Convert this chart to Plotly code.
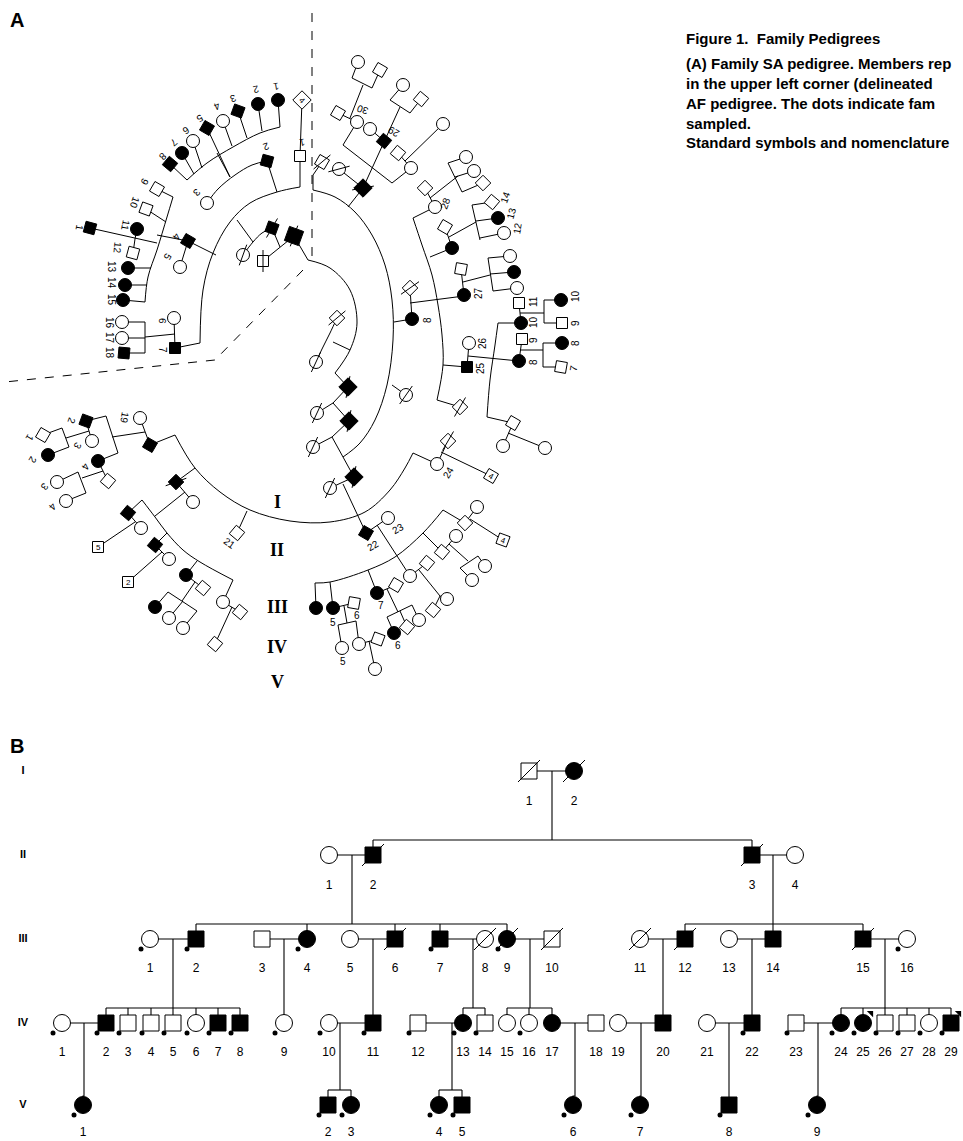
import math
import plotly.graph_objects as go

W, H = 963, 1141

# ===================== Panel B (Family AF) data =====================
B_gen_y = {"I": 771, "II": 855, "III": 939, "IV": 1023, "V": 1105}
# (generation, label, x, sex, affected, deceased, sampled, flag)
B_people = [
    ("I", "1", 529, "m", 0, 1, 0, 0), ("I", "2", 574, "f", 1, 1, 0, 0),
    ("II", "1", 329, "f", 0, 0, 0, 0), ("II", "2", 373, "m", 1, 1, 0, 0),
    ("II", "3", 752, "m", 1, 1, 0, 0), ("II", "4", 795, "f", 0, 0, 0, 0),
    ("III", "1", 150, "f", 0, 0, 1, 0), ("III", "2", 196, "m", 1, 0, 1, 0),
    ("III", "3", 262, "m", 0, 0, 0, 0), ("III", "4", 307, "f", 1, 0, 1, 0),
    ("III", "5", 350, "f", 0, 0, 0, 0), ("III", "6", 395, "m", 1, 1, 0, 0),
    ("III", "7", 440, "m", 1, 0, 1, 0), ("III", "8", 485, "f", 0, 1, 0, 0),
    ("III", "9", 507, "f", 1, 1, 1, 0), ("III", "10", 552, "m", 0, 1, 0, 0),
    ("III", "11", 640, "f", 0, 1, 0, 0), ("III", "12", 685, "m", 1, 1, 0, 0),
    ("III", "13", 729, "f", 0, 0, 0, 0), ("III", "14", 773, "m", 1, 0, 0, 0),
    ("III", "15", 863, "m", 1, 1, 0, 0), ("III", "16", 907, "f", 0, 0, 1, 0),
    ("IV", "1", 62, "f", 0, 0, 1, 0), ("IV", "2", 106, "m", 1, 0, 1, 0),
    ("IV", "3", 128, "m", 0, 0, 1, 0), ("IV", "4", 151, "m", 0, 0, 1, 0),
    ("IV", "5", 173, "m", 0, 0, 1, 0), ("IV", "6", 196, "f", 0, 0, 1, 0),
    ("IV", "7", 218, "m", 1, 0, 1, 0), ("IV", "8", 240, "m", 1, 0, 1, 0),
    ("IV", "9", 284, "f", 0, 0, 1, 0), ("IV", "10", 329, "f", 0, 0, 1, 0),
    ("IV", "11", 373, "m", 1, 0, 1, 0), ("IV", "12", 418, "m", 0, 0, 1, 0),
    ("IV", "13", 463, "f", 1, 0, 1, 0), ("IV", "14", 485, "m", 0, 0, 1, 0),
    ("IV", "15", 507, "f", 0, 0, 0, 0), ("IV", "16", 529, "f", 0, 0, 1, 0),
    ("IV", "17", 552, "f", 1, 0, 0, 0), ("IV", "18", 596, "m", 0, 0, 0, 0),
    ("IV", "19", 618, "f", 0, 0, 0, 0), ("IV", "20", 663, "m", 1, 0, 0, 0),
    ("IV", "21", 707, "f", 0, 0, 0, 0), ("IV", "22", 752, "m", 1, 0, 1, 0),
    ("IV", "23", 796, "m", 0, 0, 1, 0), ("IV", "24", 841, "f", 1, 0, 1, 0),
    ("IV", "25", 863, "f", 1, 0, 1, 1), ("IV", "26", 885, "m", 0, 0, 1, 0),
    ("IV", "27", 907, "m", 0, 0, 1, 0), ("IV", "28", 929, "f", 0, 0, 1, 0),
    ("IV", "29", 951, "m", 1, 0, 1, 1),
    ("V", "1", 83, "f", 1, 0, 1, 0), ("V", "2", 328, "m", 1, 0, 1, 0),
    ("V", "3", 351, "f", 1, 0, 1, 0), ("V", "4", 439, "f", 1, 0, 1, 0),
    ("V", "5", 462, "m", 1, 0, 1, 0), ("V", "6", 573, "f", 1, 0, 1, 0),
    ("V", "7", 640, "f", 1, 0, 1, 0), ("V", "8", 729, "m", 1, 0, 1, 0),
    ("V", "9", 817, "f", 1, 0, 1, 0),
]
# (parent generation, parent1, parent2, drop x, child generation, children)
B_families = [
    ("I", "1", "2", 552, "II", ["2", "3"]),
    ("II", "1", "2", 352, "III", ["2", "4", "6", "7", "9"]),
    ("II", "3", "4", 773, "III", ["12", "14", "15"]),
    ("III", "1", "2", 173, "IV", ["2", "3", "4", "5", "6", "7", "8"]),
    ("III", "3", "4", 284, "IV", ["9"]),
    ("III", "5", "6", 373, "IV", ["11"]),
    ("III", "7", "8", 473, "IV", ["13", "14"]),
    ("III", "9", "10", 530, "IV", ["15", "16", "17"]),
    ("III", "11", "12", 663, "IV", ["20"]),
    ("III", "13", "14", 752, "IV", ["22"]),
    ("III", "15", "16", 885, "IV", ["24", "25", "26", "27", "28", "29"]),
    ("IV", "1", "2", 84, "V", ["1"]),
    ("IV", "10", "11", 340, "V", ["2", "3"]),
    ("IV", "12", "13", 452, "V", ["4", "5"]),
    ("IV", "17", "18", 575, "V", ["6"]),
    ("IV", "19", "20", 641, "V", ["7"]),
    ("IV", "21", "22", 729, "V", ["8"]),
    ("IV", "23", "24", 818, "V", ["9"]),
]
B_gen_labels = ["I", "II", "III", "IV", "V"]
B_label_offset = {"I": 31, "II": 31, "III": 30, "IV": 30, "V": 28}

# ===================== Panel A (Family SA, circular) data =====================
# (x, y, shape, filled, rotation, slash angle or None, size or 0)
A_nodes = [
    (302, 100, "s", 0, 45, None, 13), (300, 156, "s", 0, 0, None, 0),
    (278, 100, "c", 1, 0, None, 0), (258, 104, "c", 1, 0, None, 0),
    (238, 111, "s", 1, 20, None, 0), (223, 121, "c", 0, 0, None, 0),
    (207, 128, "s", 1, 30, None, 0), (193, 141, "c", 0, 0, None, 0),
    (182, 153, "c", 1, 0, None, 0), (170, 164, "s", 1, 40, None, 0),
    (157, 189, "s", 0, 30, None, 0), (146, 209, "s", 0, 20, None, 0),
    (137, 229, "c", 1, 0, None, 0), (133, 253, "s", 0, 15, None, 0),
    (128, 268, "c", 1, 0, None, 0), (125, 285, "c", 1, 0, None, 0),
    (123, 300, "c", 1, 0, None, 0), (122, 322, "c", 0, 0, None, 0),
    (122, 338, "c", 0, 0, None, 0), (124, 353, "s", 1, 5, None, 0),
    (90, 228, "s", 1, 15, None, 0), (267, 161, "s", 1, 15, None, 0),
    (207, 203, "c", 0, 0, None, 0), (188, 241, "s", 1, 30, None, 0),
    (180, 267, "c", 0, 0, None, 0), (174, 318, "c", 0, 0, None, 0),
    (175, 348, "s", 1, 0, None, 0),
    (272, 228, "s", 1, 20, 60, 0), (294, 236, "s", 1, 20, 70, 15),
    (243, 255, "c", 0, 0, 70, 0), (263, 261, "s", 0, 0, 90, 0),
    # right upper
    (358, 62, "c", 0, 0, None, 0), (380, 70, "s", 0, 30, None, 0),
    (338, 113, "s", 0, 30, None, 0), (357, 122, "c", 0, 0, None, 0),
    (403, 85, "c", 0, 0, None, 0), (421, 99, "s", 0, 40, None, 0),
    (370, 129, "c", 0, 0, None, 0), (384, 141, "s", 1, 40, None, 0),
    (443, 124, "c", 0, 0, None, 0), (398, 153, "s", 0, 40, None, 0),
    (411, 168, "c", 0, 0, None, 0), (322, 162, "s", 0, 30, 40, 0),
    (339, 169, "c", 0, 0, 15, 0), (363, 188, "s", 1, 45, 10, 13),
    (435, 207, "c", 0, 0, None, 0), (425, 188, "s", 0, 45, None, 0),
    (466, 157, "c", 0, 0, None, 0), (474, 171, "c", 0, 0, None, 0),
    (483, 183, "s", 0, 45, None, 0), (445, 227, "s", 0, 30, None, 0),
    (452, 248, "c", 1, 0, None, 0), (492, 202, "s", 0, 40, None, 0),
    (498, 218, "c", 1, 0, None, 0), (504, 233, "c", 0, 0, None, 0),
    (461, 269, "s", 0, 10, None, 0), (464, 295, "c", 1, 0, None, 0),
    (510, 256, "c", 0, 0, None, 0), (514, 272, "c", 1, 0, None, 0),
    (517, 288, "c", 0, 0, None, 0), (410, 288, "s", 0, 45, 35, 0),
    (412, 319, "c", 1, 0, None, 0), (469, 343, "c", 0, 0, None, 0),
    (467, 367, "s", 1, 0, None, 0), (519, 303, "s", 0, 0, None, 0),
    (521, 323, "c", 1, 0, None, 0), (522, 339, "s", 0, 0, None, 0),
    (519, 361, "c", 1, 0, None, 0), (561, 300, "c", 1, 0, None, 0),
    (562, 323, "s", 0, 0, None, 0), (562, 343, "c", 1, 0, None, 0),
    (561, 367, "s", 0, 10, None, 0),
    (406, 395, "c", 0, 0, 55, 0), (460, 407, "s", 0, 45, 60, 0),
    (513, 423, "s", 0, 30, None, 0), (503, 446, "c", 0, 0, None, 0),
    (545, 448, "c", 0, 0, None, 0), (448, 441, "s", 0, 45, 60, 0),
    (437, 464, "c", 0, 0, None, 0), (491, 476, "s", 0, 30, None, 0),
    # centre spiral
    (337, 318, "s", 0, 45, 40, 0), (316, 362, "c", 0, 0, 65, 0),
    (348, 387, "s", 1, 45, 80, 13), (317, 413, "c", 0, 0, 65, 0),
    (349, 421, "s", 1, 45, 80, 13), (313, 447, "c", 0, 0, 65, 0),
    (354, 477, "s", 1, 45, 80, 13), (330, 488, "c", 0, 0, 65, 0),
    (366, 533, "s", 1, 30, None, 0), (388, 518, "c", 0, 0, None, 0),
    # bottom right
    (316, 608, "c", 1, 0, None, 0), (333, 608, "c", 1, 0, None, 0),
    (354, 603, "s", 0, 10, None, 0), (377, 593, "c", 1, 0, None, 0),
    (396, 585, "s", 0, 30, None, 0), (410, 576, "c", 0, 0, None, 0),
    (427, 563, "s", 0, 40, None, 0), (442, 552, "s", 0, 40, None, 0),
    (456, 536, "c", 0, 0, None, 0), (465, 523, "s", 0, 45, None, 0),
    (477, 507, "c", 0, 0, None, 0), (503, 540, "s", 0, 20, None, 0),
    (485, 566, "c", 0, 0, None, 0), (472, 580, "c", 0, 0, None, 0),
    (447, 599, "c", 0, 0, None, 0), (433, 610, "s", 0, 40, None, 0),
    (419, 620, "c", 0, 0, None, 0), (407, 627, "s", 0, 40, None, 0),
    (394, 633, "c", 1, 0, None, 0), (342, 648, "c", 0, 0, None, 0),
    (359, 644, "c", 0, 0, None, 0), (378, 639, "s", 0, 20, None, 0),
    (375, 669, "c", 0, 0, None, 0),
    # bottom left
    (86, 421, "s", 1, 20, None, 0), (43, 435, "s", 0, 30, None, 0),
    (48, 455, "c", 1, 0, None, 0), (92, 441, "c", 0, 0, None, 0),
    (140, 418, "c", 0, 0, None, 0), (150, 445, "s", 1, 30, None, 0),
    (98, 461, "c", 1, 0, None, 0), (108, 481, "s", 0, 40, None, 0),
    (57, 482, "c", 0, 0, None, 0), (66, 501, "c", 0, 0, None, 0),
    (176, 482, "s", 1, 45, 20, 0), (193, 502, "c", 0, 0, None, 0),
    (128, 513, "s", 1, 40, None, 0), (141, 528, "c", 0, 0, None, 0),
    (98, 547, "s", 0, 0, None, 11), (155, 545, "s", 1, 40, None, 0),
    (169, 559, "c", 0, 0, None, 0), (128, 582, "s", 0, 0, None, 11),
    (186, 575, "c", 1, 0, None, 0), (203, 588, "s", 0, 40, None, 0),
    (155, 607, "c", 1, 0, None, 0), (169, 618, "c", 0, 0, None, 0),
    (183, 628, "c", 0, 0, None, 0), (223, 602, "c", 0, 0, None, 0),
    (240, 612, "s", 0, 40, None, 0), (215, 644, "s", 0, 40, None, 0),
    (237, 533, "s", 0, 40, None, 0),
]

# straight connecting lines of panel A
A_lines = [
    [(302, 100), (300, 156), (300, 187)], [(267, 161), (277, 192)],
    [(230, 177), (217, 153)],
    [(278, 100), (280, 127)], [(258, 104), (262, 131)], [(238, 111), (247, 138)],
    [(223, 121), (232, 146)], [(207, 128), (230, 177)], [(193, 141), (202, 168)],
    [(182, 153), (194, 174)], [(170, 164), (187, 180)],
    [(157, 189), (173, 197)], [(146, 209), (166, 222)], [(128, 268), (151, 268)],
    [(125, 285), (147, 285)], [(123, 300), (145, 302)],
    [(90, 228), (157, 243)], [(137, 229), (135, 239)], [(133, 253), (135, 239)],
    [(157, 235), (188, 241), (216, 255)], [(188, 241), (180, 267)],
    [(200, 343), (175, 348)], [(174, 318), (175, 348)], [(175, 334), (145, 337)],
    [(145, 322), (145, 353)], [(122, 322), (145, 322)], [(122, 338), (145, 338)],
    [(124, 353), (145, 353)],
    [(237, 220), (253, 242)], [(263, 261), (294, 236)], [(272, 228), (280, 247)],
    [(294, 236), (308, 260)],
    [(335, 373), (348, 387)], [(333, 342), (350, 350)],
    [(348, 387), (333, 403), (317, 413)], [(333, 403), (349, 421)],
    [(349, 421), (332, 437), (313, 447)], [(332, 437), (343, 457), (354, 477)],
    [(354, 477), (330, 488)], [(343, 484), (366, 533)],
    [(313, 190), (313, 175), (322, 162)],
    [(348, 207), (363, 188), (339, 169)],
    [(363, 188), (384, 141), (400, 107)], [(370, 129), (384, 141)],
    [(403, 85), (390, 100), (410, 113), (421, 99)],
    [(392, 385), (406, 395)],
    [(394, 322), (412, 319)], [(410, 288), (412, 319)], [(410, 303), (464, 296)],
    [(343, 145), (392, 183), (411, 168)], [(343, 145), (357, 122)],
    [(398, 153), (411, 168)], [(405, 161), (443, 124)],
    [(358, 62), (352, 78), (372, 88), (380, 70)], [(363, 85), (350, 118)],
    [(338, 113), (357, 122)],
    [(413, 218), (435, 207)], [(437, 400), (460, 407)],
    [(425, 188), (435, 207)], [(430, 198), (458, 176)],
    [(448, 163), (462, 192)], [(448, 163), (466, 157)], [(455, 177), (474, 171)],
    [(462, 192), (483, 183)],
    [(430, 257), (452, 248)], [(445, 227), (452, 248)], [(449, 237), (476, 222)],
    [(472, 205), (480, 240)], [(472, 205), (492, 202)], [(476, 221), (498, 218)],
    [(480, 238), (504, 233)],
    [(461, 269), (464, 295)], [(463, 282), (490, 275)],
    [(488, 258), (493, 291)], [(488, 258), (510, 256)], [(490, 274), (514, 272)],
    [(493, 291), (517, 288)],
    [(443, 365), (467, 367)], [(469, 343), (467, 367)], [(468, 356), (519, 361)],
    [(521, 323), (498, 323)], [(487, 417), (513, 423)], [(513, 423), (503, 446)],
    [(508, 433), (545, 448)],
    [(519, 303), (521, 323)], [(520, 313), (544, 313)], [(544, 300), (544, 323)],
    [(544, 300), (561, 300)], [(544, 323), (562, 323)],
    [(522, 339), (519, 361)], [(520, 350), (543, 350)], [(543, 343), (543, 367)],
    [(543, 343), (562, 343)], [(543, 367), (561, 367)],
    [(413, 453), (437, 464)], [(448, 441), (437, 464)], [(441, 452), (491, 476)],
    [(247, 511), (237, 533)],
    [(195, 468), (176, 482)], [(176, 482), (193, 502)], [(185, 492), (155, 516)],
    [(142, 500), (128, 513)],
    [(128, 513), (141, 528)], [(135, 522), (98, 547)],
    [(167, 533), (155, 545)], [(155, 545), (169, 559)], [(162, 552), (128, 582)],
    [(197, 561), (186, 575)], [(186, 575), (203, 588)], [(195, 582), (182, 601)],
    [(168, 592), (197, 611)], [(168, 592), (155, 607)], [(183, 601), (169, 618)],
    [(197, 611), (183, 628)],
    [(233, 580), (223, 602)], [(223, 602), (240, 612)], [(232, 607), (215, 644)],
    [(150, 445), (175, 435)], [(140, 418), (150, 445)], [(145, 432), (112, 437)],
    [(86, 421), (106, 416), (118, 453), (98, 461)],
    [(86, 421), (92, 441)], [(89, 431), (66, 438)],
    [(43, 435), (62, 428), (69, 447), (48, 455)],
    [(98, 461), (108, 481)], [(103, 471), (82, 478)],
    [(57, 482), (78, 472), (86, 493), (66, 501)],
    [(366, 533), (388, 518)], [(377, 525), (410, 576)],
    [(315, 583), (316, 608)], [(330, 582), (333, 608)], [(368, 570), (377, 593)],
    [(423, 533), (442, 552)], [(443, 510), (465, 523)], [(465, 523), (477, 507)],
    [(470, 519), (503, 540)],
    [(442, 552), (456, 536)], [(449, 544), (468, 561)], [(460, 568), (478, 556)],
    [(460, 568), (472, 580)], [(478, 556), (485, 566)],
    [(427, 563), (410, 576)], [(419, 570), (440, 596)], [(440, 596), (447, 599)],
    [(440, 596), (433, 610)],
    [(377, 593), (396, 585)], [(387, 589), (398, 612)], [(387, 617), (412, 605)],
    [(387, 617), (394, 633)], [(400, 611), (407, 627)], [(412, 605), (419, 620)],
    [(333, 608), (354, 603)], [(344, 606), (347, 623)], [(338, 625), (356, 621)],
    [(338, 625), (342, 648)], [(356, 621), (359, 644)],
    [(359, 644), (378, 639)], [(369, 641), (375, 669)],
]
# curved connecting lines of panel A (smoothed through points)
A_curves = [
    [(187, 180), (207, 163), (233, 147), (260, 133), (280, 127)],
    [(207, 203), (218, 189), (235, 175), (252, 165), (267, 161)],
    [(173, 197), (167, 217), (157, 250), (148, 277), (145, 302)],
    [(300, 187), (277, 192), (250, 203), (230, 222), (213, 253), (203, 290), (200, 343)],
    [(243, 255), (253, 242), (262, 233), (272, 228)],
    [(308, 260), (330, 268), (350, 290), (357, 323), (350, 350), (335, 373)],
    [(316, 362), (322, 349), (330, 333), (337, 318)],
    [(313, 190), (335, 197), (355, 212), (372, 235), (385, 265), (392, 300),
     (393, 340), (387, 385), (375, 420), (360, 443), (343, 457)],
    [(413, 218), (422, 245), (432, 275), (438, 305), (442, 335), (443, 365), (437, 400)],
    [(498, 323), (495, 345), (490, 380), (487, 417)],
    [(175, 435), (195, 468), (220, 492), (250, 510), (290, 521), (330, 522),
     (365, 512), (390, 490), (405, 468), (413, 453)],
    [(142, 500), (155, 517), (167, 533), (183, 550), (200, 562), (233, 580)],
    [(315, 583), (330, 582), (368, 570), (395, 557), (423, 533), (443, 510)],
]
A_dashed = [[(312, 13), (312, 260)], [(303, 270), (215, 360), (5, 382)]]

# (text, x, y, rotation)
A_labels = [
    ("1", 276, 87, 170), ("2", 256, 90, 165), ("3", 233, 99, 160), ("4", 217, 107, 155),
    ("5", 200, 119, 150), ("6", 186, 131, 145), ("7", 174, 143, 140), ("8", 163, 157, 135),
    ("9", 145, 182, 120), ("10", 135, 203, 110), ("11", 126, 225, 100), ("12", 118, 248, 95),
    ("13", 112, 267, 90), ("14", 112, 283, 90), ("15", 112, 300, 90), ("16", 110, 323, 90),
    ("17", 110, 338, 90), ("18", 110, 353, 90),
    ("1", 80, 228, 100), ("2", 266, 147, 160), ("3", 197, 193, 135), ("4", 177, 237, 120),
    ("5", 168, 257, 120), ("6", 163, 321, 95), ("7", 163, 350, 90), ("1", 302, 143, 170),
    ("30", 362, 110, 200), ("29", 393, 132, 210), ("28", 445, 203, -70),
    ("14", 505, 197, -70), ("13", 511, 213, -75), ("12", 517, 228, -80),
    ("27", 478, 293, -90), ("8", 427, 320, -90), ("11", 533, 302, -90), ("10", 533, 322, -90),
    ("10", 575, 296, -90), ("9", 575, 323, -90), ("9", 533, 340, -90), ("8", 533, 362, -90),
    ("8", 575, 343, -90), ("7", 573, 368, -80), ("26", 482, 343, -90), ("25", 480, 368, -90),
    ("24", 448, 472, -60), ("22", 373, 545, -30), ("23", 398, 528, -30),
    ("5", 333, 622, 0), ("6", 357, 615, 0), ("7", 381, 605, 0), ("6", 398, 645, 0),
    ("5", 343, 661, 0),
    ("19", 125, 418, 100), ("2", 72, 421, 110), ("1", 30, 438, 120), ("2", 33, 460, 120),
    ("3", 78, 446, 120), ("4", 86, 467, 120), ("3", 45, 487, 130), ("4", 53, 507, 130),
    ("21", 230, 543, 35),
]
# numbers written inside boxed symbols
A_box_labels = [("4", 302, 100, 45), ("4", 491, 476, 30), ("4", 503, 540, 20),
                ("5", 98, 547, 0), ("2", 128, 582, 0)]
A_roman = [("I", 502), ("II", 550), ("III", 607), ("IV", 647), ("V", 682)]

caption_lines = [
    ("<b>Figure 1.  Family Pedigrees</b>", 38),
    ("<b>(A) Family SA pedigree. Members rep</b>", 63),
    ("<b>in the upper left corner (delineated</b>", 83),
    ("<b>AF pedigree. The dots indicate fam</b>", 103),
    ("<b>sampled.</b>", 123),
    ("<b>Standard symbols and nomenclature</b>", 142),
]

# ===================== build figure =====================
fig = go.Figure()


def add_lines(segs, width=1.0, dash=None, shape="linear"):
    xs, ys = [], []
    for s in segs:
        for (x, y) in s:
            xs.append(x)
            ys.append(y)
        xs.append(None)
        ys.append(None)
    fig.add_trace(go.Scatter(x=xs, y=ys, mode="lines",
                             line=dict(color="black", width=width, dash=dash, shape=shape),
                             hoverinfo="skip", showlegend=False))


def add_markers(xs, ys, symbol, filled, sizes, angles, lw=1.0):
    if not xs:
        return
    fig.add_trace(go.Scatter(x=xs, y=ys, mode="markers",
                             marker=dict(symbol=symbol, size=sizes, angle=angles, opacity=1,
                                         color="#000000" if filled else "#ffffff",
                                         line=dict(color="#000000", width=lw)),
                             opacity=1, hoverinfo="skip", showlegend=False))


# ---- Panel A lines
add_lines(A_lines, 1.0)
add_lines(A_curves, 1.0, shape="spline")
add_lines(A_dashed, 1.0, dash="dash")

# ---- Panel B lines
pos = {(g, l): (x, B_gen_y[g]) for (g, l, x, *_r) in B_people}
B_segs = []
for (pg, a, b, dx, cg, kids) in B_families:
    xa, ya = pos[(pg, a)]
    xb, yb = pos[(pg, b)]
    B_segs.append([(xa, ya), (xb, yb)])
    cy = B_gen_y[cg]
    kx = [pos[(cg, k)][0] for k in kids]
    if len(kids) == 1:
        B_segs.append([(dx, ya), (dx, cy - 9), (kx[0], cy - 9), (kx[0], cy)])
    else:
        sy = cy - 15
        B_segs.append([(dx, ya), (dx, sy)])
        B_segs.append([(min(kx), sy), (max(kx), sy)])
        for x in kx:
            B_segs.append([(x, sy), (x, cy)])
add_lines(B_segs, 1.1)

# ---- deceased slashes
slashes = []
for (g, l, x, sex, aff, dec, smp, flag) in B_people:
    if dec:
        y = B_gen_y[g]
        slashes.append([(x - 11, y + 11), (x + 11, y - 11)])
for (x, y, sh, f, ang, sl, sz) in A_nodes:
    if sl is not None:
        L = 11
        dx, dy = L * math.cos(math.radians(sl)), -L * math.sin(math.radians(sl))
        slashes.append([(x - dx, y - dy), (x + dx, y + dy)])

# ---- Panel A symbols
for shape, sym in (("s", "square"), ("c", "circle")):
    for filled in (0, 1):
        sel = [n for n in A_nodes if n[2] == shape and n[3] == filled]
        add_markers([n[0] for n in sel], [n[1] for n in sel], sym, filled,
                    [n[6] if n[6] else (11 if shape == "s" else 13) for n in sel],
                    [n[4] for n in sel])

# ---- Panel B symbols
for sex, sym in (("m", "square"), ("f", "circle")):
    for filled in (0, 1):
        sel = [p for p in B_people if p[3] == sex and p[4] == filled]
        add_markers([p[2] for p in sel], [B_gen_y[p[0]] for p in sel], sym, filled,
                    [16 if sex == "m" else 17] * len(sel), [0] * len(sel))

add_lines(slashes, 1.0)

# sampled dots
dots = [p for p in B_people if p[6]]
fig.add_trace(go.Scatter(x=[p[2] - 9 for p in dots], y=[B_gen_y[p[0]] + 10 for p in dots],
                         mode="markers",
                         marker=dict(symbol="circle", size=5, color="#000000", opacity=1),
                         hoverinfo="skip", showlegend=False))
# proband flags
flags = [p for p in B_people if p[7]]
fig.add_trace(go.Scatter(x=[p[2] + 8 for p in flags], y=[B_gen_y[p[0]] - 10 for p in flags],
                         mode="markers",
                         marker=dict(symbol="triangle-ne", size=7, color="#000000", opacity=1),
                         hoverinfo="skip", showlegend=False))

# ---- Panel B texts
fig.add_trace(go.Scatter(x=[p[2] for p in B_people],
                         y=[B_gen_y[p[0]] + B_label_offset[p[0]] for p in B_people],
                         mode="text", text=[p[1] for p in B_people],
                         textfont=dict(family="Liberation Sans, Arial", size=12, color="black"),
                         hoverinfo="skip", showlegend=False))
fig.add_trace(go.Scatter(x=[23] * 5, y=[B_gen_y[g] for g in B_gen_labels], mode="text",
                         text=["<b>%s</b>" % g for g in B_gen_labels],
                         textfont=dict(family="Liberation Sans, Arial", size=11, color="black"),
                         hoverinfo="skip", showlegend=False))

annotations = []
for (t, x, y, a) in A_labels:
    annotations.append(dict(x=x, y=y, text=t, textangle=a, showarrow=False,
                            font=dict(family="Liberation Sans, Arial", size=10, color="black"),
                            xref="x", yref="y"))
for (t, x, y, a) in A_box_labels:
    annotations.append(dict(x=x, y=y, text=t, textangle=a, showarrow=False,
                            font=dict(family="Liberation Sans, Arial", size=8, color="black"),
                            xref="x", yref="y"))
for (t, y) in A_roman:
    annotations.append(dict(x=277, y=y, text="<b>%s</b>" % t, showarrow=False,
                            font=dict(family="Liberation Serif, Times New Roman", size=18,
                                      color="black"), xref="x", yref="y"))
annotations.append(dict(x=8, y=20, text="<b>A</b>", showarrow=False, xanchor="left",
                        font=dict(family="Liberation Sans, Arial", size=20, color="black"),
                        xref="x", yref="y"))
annotations.append(dict(x=8, y=746, text="<b>B</b>", showarrow=False, xanchor="left",
                        font=dict(family="Liberation Sans, Arial", size=20, color="black"),
                        xref="x", yref="y"))
for (t, y) in caption_lines:
    annotations.append(dict(x=684, y=y, text=t, showarrow=False, xanchor="left",
                            font=dict(family="Liberation Sans, Arial", size=15, color="black"),
                            xref="x", yref="y"))

fig.update_layout(
    width=W, height=H, margin=dict(l=0, r=0, t=0, b=0),
    paper_bgcolor="white", plot_bgcolor="white",
    xaxis=dict(range=[0, W], visible=False, fixedrange=True),
    yaxis=dict(range=[H, 0], visible=False, fixedrange=True),
    annotations=annotations, showlegend=False,
)
fig.write_html("out.html", config={"displayModeBar": False},
               post_script="document.body.style.margin='0';document.body.style.overflow='hidden';")
